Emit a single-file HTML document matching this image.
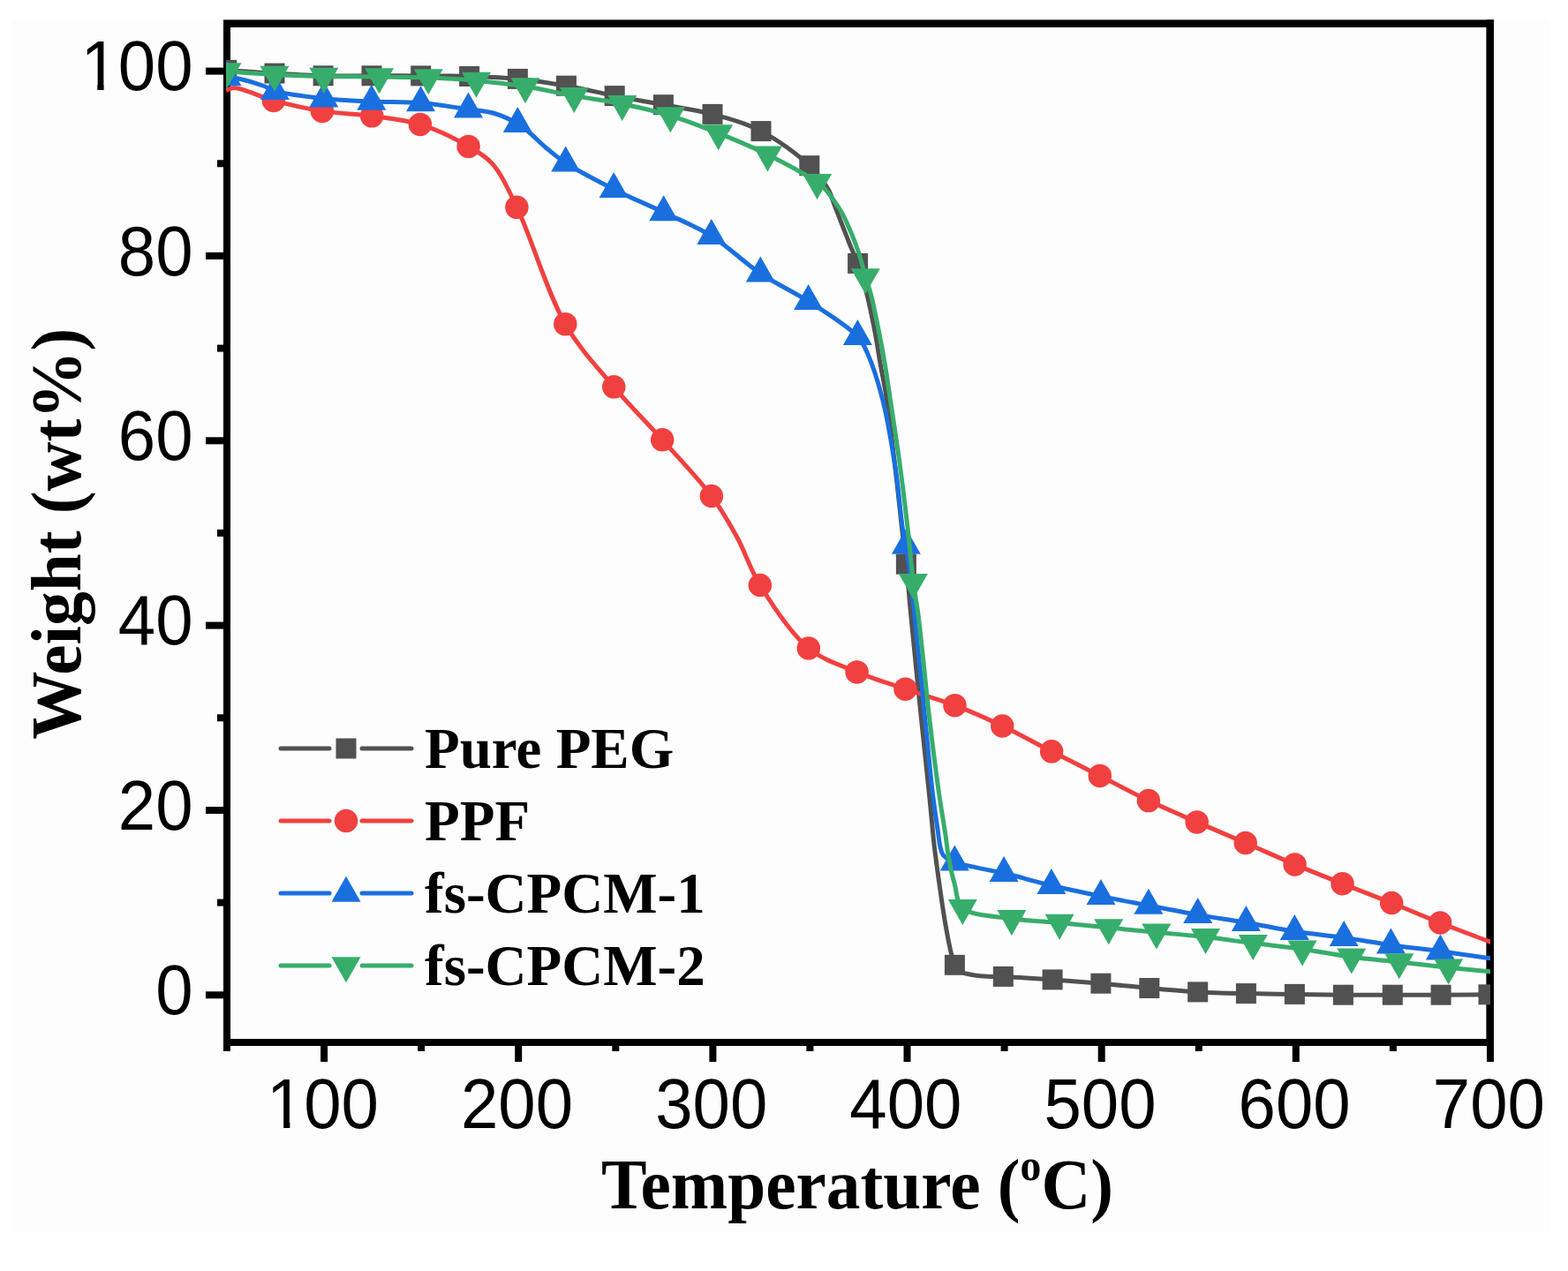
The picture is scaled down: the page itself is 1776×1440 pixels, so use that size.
<!DOCTYPE html>
<html><head><meta charset="utf-8"><title>TGA curves</title>
<style>
html,body{margin:0;padding:0;background:#ffffff;}
body{width:1776px;height:1440px;overflow:hidden;}
svg{display:block;}
.tk{font-family:"Liberation Sans",sans-serif;font-size:79.5px;fill:#000;}
.ti{font-family:"Liberation Serif",serif;font-weight:bold;font-size:81px;fill:#000;}
.lg{font-family:"Liberation Serif",serif;font-weight:bold;font-size:65px;fill:#000;}
</style></head><body>
<svg width="1776" height="1440" viewBox="0 0 1776 1440">
<rect x="0" y="0" width="1776" height="1440" fill="#ffffff"/>
<rect x="14" y="22" width="1741" height="1374" fill="#fdfdfd"/>
<defs><clipPath id="pc"><rect x="256" y="20" width="1432" height="1170"/></clipPath></defs>

<g fill="#000">
<rect x="253" y="22.4" width="1439" height="8.6"/>
<rect x="253" y="1177" width="1439" height="8"/>
<rect x="253" y="23" width="8" height="1162"/>
<rect x="1683.4" y="22.4" width="8.6" height="1162.6"/>
<rect x="253.0" y="1185" width="8" height="6"/>
<rect x="363.1" y="1185" width="8" height="18"/>
<rect x="473.1" y="1185" width="8" height="6"/>
<rect x="583.2" y="1185" width="8" height="18"/>
<rect x="693.3" y="1185" width="8" height="6"/>
<rect x="803.4" y="1185" width="8" height="18"/>
<rect x="913.4" y="1185" width="8" height="6"/>
<rect x="1023.5" y="1185" width="8" height="18"/>
<rect x="1133.6" y="1185" width="8" height="6"/>
<rect x="1243.7" y="1185" width="8" height="18"/>
<rect x="1353.8" y="1185" width="8" height="6"/>
<rect x="1463.8" y="1185" width="8" height="18"/>
<rect x="1573.9" y="1185" width="8" height="6"/>
<rect x="1684.0" y="1185" width="8" height="18"/>
<rect x="233" y="1123.3" width="20" height="8"/>
<rect x="246" y="1018.6" width="7" height="8"/>
<rect x="233" y="914.0" width="20" height="8"/>
<rect x="246" y="809.3" width="7" height="8"/>
<rect x="233" y="704.6" width="20" height="8"/>
<rect x="246" y="599.9" width="7" height="8"/>
<rect x="233" y="495.3" width="20" height="8"/>
<rect x="246" y="390.6" width="7" height="8"/>
<rect x="233" y="285.9" width="20" height="8"/>
<rect x="246" y="181.3" width="7" height="8"/>
<rect x="233" y="76.6" width="20" height="8"/>
</g>
<text class="tk" transform="translate(365.4,1277.6) scale(0.958,1)" text-anchor="middle">100</text>
<text class="tk" transform="translate(585.5,1277.6) scale(0.958,1)" text-anchor="middle">200</text>
<text class="tk" transform="translate(805.7,1277.6) scale(0.958,1)" text-anchor="middle">300</text>
<text class="tk" transform="translate(1025.8,1277.6) scale(0.958,1)" text-anchor="middle">400</text>
<text class="tk" transform="translate(1246.0,1277.6) scale(0.958,1)" text-anchor="middle">500</text>
<text class="tk" transform="translate(1466.1,1277.6) scale(0.958,1)" text-anchor="middle">600</text>
<text class="tk" transform="translate(1686.3,1277.6) scale(0.958,1)" text-anchor="middle">700</text>
<text class="tk" transform="translate(218.5,1149.1) scale(0.958,1)" text-anchor="end">0</text>
<text class="tk" transform="translate(218.5,939.8) scale(0.958,1)" text-anchor="end">20</text>
<text class="tk" transform="translate(218.5,730.4) scale(0.958,1)" text-anchor="end">40</text>
<text class="tk" transform="translate(218.5,521.1) scale(0.958,1)" text-anchor="end">60</text>
<text class="tk" transform="translate(218.5,311.7) scale(0.958,1)" text-anchor="end">80</text>
<text class="tk" transform="translate(218.5,102.4) scale(0.958,1)" text-anchor="end">100</text>
<text class="ti" transform="translate(971,1368.5) scale(0.955,1)" text-anchor="middle">Temperature (<tspan font-size="50" dy="-31.7">o</tspan><tspan dy="31.7">C)</tspan></text>
<text class="ti" transform="translate(90.8,604.8) rotate(-90) scale(0.955,1)" text-anchor="middle">Weight (wt%)</text>
<g fill="#fdfdfd"><rect x="95" y="95.5" width="15.3" height="7"/><rect x="117.6" y="95.5" width="14" height="7"/><rect x="306" y="1271.5" width="15.2" height="7"/><rect x="328.4" y="1271.5" width="14" height="7"/></g>
<g clip-path="url(#pc)">
<path d="M256.70,79.40 C274.80,80.63 292.83,82.04 311.00,83.10 C329.29,84.17 347.74,85.35 366.10,85.80 C384.41,86.25 402.63,85.78 421.00,85.80 C439.50,85.82 458.20,85.78 476.70,85.90 C495.07,86.02 513.31,85.92 531.60,86.50 C549.88,87.08 568.16,87.63 586.40,89.40 C604.76,91.18 623.13,94.01 641.40,97.20 C659.73,100.40 677.88,105.02 696.20,108.60 C714.54,112.19 732.97,115.24 751.40,118.70 C769.91,122.17 788.69,124.47 807.00,129.40 C825.57,134.40 844.31,139.44 862.00,148.60 C881.01,158.45 903.32,174.84 916.80,187.70 C926.53,196.99 933.72,206.92 938.50,215.30 C941.92,221.29 942.79,226.31 945.00,232.00 C947.32,237.96 949.76,244.28 952.10,250.30 C954.39,256.17 956.72,262.16 958.90,267.70 C960.90,272.78 962.65,277.33 964.70,282.30 C966.87,287.55 969.27,291.93 971.60,298.40 C974.96,307.73 978.76,320.89 981.90,333.30 C985.41,347.17 988.68,364.03 991.30,377.80 C993.55,389.65 994.90,399.49 996.90,411.00 C999.07,423.48 1001.56,434.65 1003.90,450.00 C1007.24,471.89 1010.95,504.21 1014.00,530.00 C1016.85,554.10 1019.40,580.03 1021.70,600.00 C1023.42,614.95 1024.87,624.81 1026.40,639.20 C1028.26,656.77 1029.60,674.94 1031.80,697.80 C1034.91,730.09 1039.81,778.71 1043.50,814.60 C1046.65,845.29 1049.88,874.24 1052.50,900.00 C1054.66,921.28 1056.12,940.28 1058.20,958.30 C1060.00,973.93 1061.94,987.43 1064.00,1002.00 C1066.07,1016.60 1068.24,1032.19 1070.60,1045.80 C1072.68,1057.77 1075.03,1070.67 1077.20,1079.40 C1078.61,1085.08 1079.47,1089.56 1081.40,1093.30 C1082.93,1096.26 1084.76,1098.88 1087.00,1100.50 C1089.03,1101.97 1091.43,1102.29 1094.00,1103.00 C1097.01,1103.83 1100.37,1104.47 1104.00,1105.00 C1108.26,1105.62 1113.02,1106.06 1118.00,1106.30 C1123.69,1106.58 1128.55,1106.14 1136.30,1106.40 C1149.85,1106.86 1173.59,1108.59 1192.10,1109.90 C1210.45,1111.20 1228.63,1112.60 1246.90,1114.20 C1265.20,1115.80 1283.49,1117.88 1301.80,1119.50 C1320.09,1121.12 1338.40,1122.88 1356.70,1123.90 C1374.94,1124.91 1393.14,1125.18 1411.40,1125.60 C1429.71,1126.02 1448.07,1126.13 1466.40,1126.40 C1484.73,1126.67 1502.99,1127.07 1521.40,1127.20 C1539.96,1127.33 1558.76,1127.20 1577.30,1127.20 C1595.66,1127.20 1613.91,1127.27 1632.10,1127.20 C1650.14,1127.13 1668.03,1126.93 1686.00,1126.80" fill="none" stroke="#515151" stroke-width="5" stroke-linejoin="round"/>
<g fill="#515151"><rect x="245.2" y="67.9" width="23" height="23"/><rect x="299.5" y="71.6" width="23" height="23"/><rect x="354.6" y="74.3" width="23" height="23"/><rect x="409.5" y="74.3" width="23" height="23"/><rect x="465.2" y="74.4" width="23" height="23"/><rect x="520.1" y="75.0" width="23" height="23"/><rect x="574.9" y="77.9" width="23" height="23"/><rect x="629.9" y="85.7" width="23" height="23"/><rect x="684.7" y="97.1" width="23" height="23"/><rect x="739.9" y="107.2" width="23" height="23"/><rect x="795.5" y="117.9" width="23" height="23"/><rect x="850.5" y="137.1" width="23" height="23"/><rect x="905.3" y="176.2" width="23" height="23"/><rect x="960.1" y="286.9" width="23" height="23"/><rect x="1014.9" y="627.7" width="23" height="23"/><rect x="1069.9" y="1081.8" width="23" height="23"/><rect x="1124.8" y="1094.9" width="23" height="23"/><rect x="1180.6" y="1098.4" width="23" height="23"/><rect x="1235.4" y="1102.7" width="23" height="23"/><rect x="1290.3" y="1108.0" width="23" height="23"/><rect x="1345.2" y="1112.4" width="23" height="23"/><rect x="1399.9" y="1114.1" width="23" height="23"/><rect x="1454.9" y="1114.9" width="23" height="23"/><rect x="1509.9" y="1115.7" width="23" height="23"/><rect x="1565.8" y="1115.7" width="23" height="23"/><rect x="1620.6" y="1115.7" width="23" height="23"/><rect x="1674.5" y="1115.3" width="23" height="23"/></g>
<path d="M256.00,102.50 C259.00,101.50 260.85,99.52 265.00,99.50 C274.25,99.45 294.07,109.64 309.90,113.90 C327.20,118.55 346.37,123.00 364.90,125.90 C383.47,128.81 402.62,128.78 421.20,131.30 C439.61,133.80 458.02,135.34 475.90,140.90 C494.51,146.68 515.90,157.35 530.60,165.90 C541.52,172.25 549.34,176.17 557.50,185.30 C568.18,197.24 575.24,213.94 585.40,234.80 C601.53,267.93 619.29,330.99 640.30,367.20 C656.94,395.87 676.50,415.97 695.30,438.30 C713.18,459.54 731.95,477.90 750.20,498.30 C768.82,519.11 790.96,541.79 805.90,562.00 C817.97,578.34 825.99,592.54 835.00,609.00 C844.38,626.14 849.44,644.37 860.90,663.00 C874.95,685.85 895.37,717.66 915.80,734.40 C932.62,748.19 952.09,753.62 970.60,761.40 C988.67,768.99 1007.08,774.42 1025.50,780.70 C1044.04,787.02 1063.17,792.22 1081.50,799.20 C1099.77,806.16 1117.35,813.99 1135.30,822.50 C1153.88,831.31 1172.57,841.84 1191.10,851.30 C1209.40,860.64 1227.55,869.62 1245.80,878.90 C1264.15,888.22 1282.44,898.29 1300.90,907.10 C1319.07,915.77 1337.39,923.41 1355.70,931.40 C1373.99,939.38 1392.30,947.04 1410.70,955.00 C1429.27,963.04 1448.08,971.62 1466.60,979.40 C1484.68,987.00 1502.37,993.98 1520.50,1001.20 C1538.89,1008.52 1557.72,1015.60 1576.20,1023.00 C1594.62,1030.37 1612.52,1038.11 1631.20,1045.50 C1650.43,1053.11 1670.40,1060.50 1690.00,1068.00" fill="none" stroke="#F14040" stroke-width="5" stroke-linejoin="round"/>
<g fill="#F14040"><circle cx="309.9" cy="113.9" r="13.25"/><circle cx="364.9" cy="125.9" r="13.25"/><circle cx="421.2" cy="131.3" r="13.25"/><circle cx="475.9" cy="140.9" r="13.25"/><circle cx="530.6" cy="165.9" r="13.25"/><circle cx="585.4" cy="234.8" r="13.25"/><circle cx="640.3" cy="367.2" r="13.25"/><circle cx="695.3" cy="438.3" r="13.25"/><circle cx="750.2" cy="498.3" r="13.25"/><circle cx="805.9" cy="562.0" r="13.25"/><circle cx="860.9" cy="663.0" r="13.25"/><circle cx="915.8" cy="734.4" r="13.25"/><circle cx="970.6" cy="761.4" r="13.25"/><circle cx="1025.5" cy="780.7" r="13.25"/><circle cx="1081.5" cy="799.2" r="13.25"/><circle cx="1135.3" cy="822.5" r="13.25"/><circle cx="1191.1" cy="851.3" r="13.25"/><circle cx="1245.8" cy="878.9" r="13.25"/><circle cx="1300.9" cy="907.1" r="13.25"/><circle cx="1355.7" cy="931.4" r="13.25"/><circle cx="1410.7" cy="955.0" r="13.25"/><circle cx="1466.6" cy="979.4" r="13.25"/><circle cx="1520.5" cy="1001.2" r="13.25"/><circle cx="1576.2" cy="1023.0" r="13.25"/><circle cx="1631.2" cy="1045.5" r="13.25"/></g>
<path d="M257.00,87.50 C262.00,88.17 266.32,88.29 272.00,89.50 C279.74,91.15 291.81,94.80 299.00,97.50 C304.01,99.38 305.62,101.47 311.40,103.20 C323.11,106.71 348.41,109.73 366.80,111.70 C384.87,113.63 402.65,114.19 420.80,115.00 C439.22,115.83 458.12,115.11 476.50,116.60 C494.68,118.07 515.21,121.56 530.50,123.80 C541.82,125.46 550.62,125.72 560.00,128.50 C569.21,131.23 579.14,135.99 586.30,140.20 C591.82,143.45 595.22,146.53 600.00,150.50 C605.70,155.24 611.54,161.53 618.00,167.00 C625.02,172.94 631.19,178.46 640.70,184.70 C654.67,193.86 676.72,205.09 695.20,214.40 C713.72,223.73 733.12,231.71 751.70,240.60 C769.98,249.35 788.18,256.34 805.80,267.30 C824.78,279.11 842.48,297.32 861.30,309.90 C879.12,321.82 897.66,329.72 915.60,341.30 C934.37,353.41 960.53,369.40 971.40,381.30 C977.51,387.99 978.76,391.96 982.40,400.00 C988.18,412.77 994.55,432.73 999.50,452.00 C1005.46,475.20 1010.11,504.14 1014.10,530.00 C1018.01,555.33 1020.68,591.07 1023.30,605.60 C1024.38,611.57 1025.22,612.09 1026.30,618.10 C1029.01,633.13 1032.76,668.68 1036.00,697.80 C1039.92,733.01 1044.16,778.71 1047.80,814.60 C1050.91,845.29 1053.64,876.28 1056.50,900.00 C1058.55,917.01 1061.09,933.03 1062.60,943.70 C1063.47,949.87 1063.60,953.86 1064.70,958.30 C1065.66,962.20 1066.09,966.04 1068.50,969.00 C1071.26,972.40 1075.25,974.36 1081.30,976.80 C1093.11,981.57 1118.71,984.86 1137.10,989.30 C1155.23,993.67 1172.74,998.88 1190.90,1003.20 C1209.36,1007.59 1228.47,1011.56 1247.00,1015.40 C1265.13,1019.15 1282.77,1022.53 1300.90,1026.00 C1319.33,1029.53 1338.17,1033.18 1356.70,1036.40 C1375.00,1039.58 1393.17,1042.06 1411.40,1045.20 C1429.70,1048.36 1447.88,1052.45 1466.30,1055.30 C1484.81,1058.16 1503.82,1059.70 1522.20,1062.30 C1540.17,1064.84 1557.42,1068.16 1575.40,1070.70 C1593.81,1073.30 1612.53,1075.18 1631.40,1077.70 C1650.72,1080.28 1670.47,1083.23 1690.00,1086.00" fill="none" stroke="#1A6FDF" stroke-width="5" stroke-linejoin="round"/>
<g fill="#1A6FDF"><path d="M257.0,68.2L273.5,97.2L240.5,97.2Z"/><path d="M311.4,83.9L327.9,112.9L294.9,112.9Z"/><path d="M366.8,92.4L383.3,121.4L350.3,121.4Z"/><path d="M420.8,95.7L437.3,124.7L404.3,124.7Z"/><path d="M476.5,97.3L493.0,126.3L460.0,126.3Z"/><path d="M530.5,104.5L547.0,133.5L514.0,133.5Z"/><path d="M586.3,120.9L602.8,149.9L569.8,149.9Z"/><path d="M640.7,165.4L657.2,194.4L624.2,194.4Z"/><path d="M695.2,195.1L711.7,224.1L678.7,224.1Z"/><path d="M751.7,221.3L768.2,250.3L735.2,250.3Z"/><path d="M805.8,248.0L822.3,277.0L789.3,277.0Z"/><path d="M861.3,290.6L877.8,319.6L844.8,319.6Z"/><path d="M915.6,322.0L932.1,351.0L899.1,351.0Z"/><path d="M971.4,362.0L987.9,391.0L954.9,391.0Z"/><path d="M1026.3,598.8L1042.8,627.8L1009.8,627.8Z"/><path d="M1081.3,957.5L1097.8,986.5L1064.8,986.5Z"/><path d="M1137.1,970.0L1153.6,999.0L1120.6,999.0Z"/><path d="M1190.9,983.9L1207.4,1012.9L1174.4,1012.9Z"/><path d="M1247.0,996.1L1263.5,1025.1L1230.5,1025.1Z"/><path d="M1300.9,1006.7L1317.4,1035.7L1284.4,1035.7Z"/><path d="M1356.7,1017.1L1373.2,1046.1L1340.2,1046.1Z"/><path d="M1411.4,1025.9L1427.9,1054.9L1394.9,1054.9Z"/><path d="M1466.3,1036.0L1482.8,1065.0L1449.8,1065.0Z"/><path d="M1522.2,1043.0L1538.7,1072.0L1505.7,1072.0Z"/><path d="M1575.4,1051.4L1591.9,1080.4L1558.9,1080.4Z"/><path d="M1631.4,1058.4L1647.9,1087.4L1614.9,1087.4Z"/></g>
<path d="M257.00,81.00 C275.00,82.13 292.85,83.49 311.00,84.40 C329.44,85.33 347.65,86.06 366.80,86.50 C387.09,86.96 409.22,86.76 429.50,87.00 C448.62,87.23 466.77,87.16 485.20,87.90 C503.40,88.63 521.24,89.74 539.40,91.40 C557.84,93.09 576.54,95.14 595.00,98.00 C613.51,100.87 631.92,105.30 650.30,108.60 C668.49,111.86 686.61,113.99 704.70,117.70 C722.98,121.45 741.35,125.52 759.40,131.00 C777.69,136.56 795.58,143.64 813.70,150.90 C832.28,158.34 851.10,166.07 869.50,175.20 C888.41,184.58 915.09,199.27 925.60,206.60 C930.11,209.75 931.70,211.24 934.60,214.30 C937.96,217.84 941.31,222.73 944.30,226.90 C947.11,230.82 949.56,234.22 952.10,238.60 C955.09,243.76 958.17,250.31 960.80,256.10 C963.31,261.64 965.41,266.85 967.60,272.60 C969.95,278.77 972.34,285.29 974.40,292.00 C976.56,299.06 978.13,306.93 980.20,314.00 C982.15,320.67 984.31,325.48 986.40,333.30 C989.52,345.02 993.17,364.03 995.90,377.80 C998.25,389.66 1000.05,399.47 1002.00,411.00 C1004.10,423.46 1005.70,434.68 1008.00,450.00 C1011.29,471.92 1016.18,503.69 1019.70,530.00 C1023.12,555.54 1026.32,582.50 1028.90,605.60 C1031.08,625.10 1032.32,643.18 1034.40,659.60 C1036.16,673.46 1038.09,681.57 1040.20,697.80 C1043.87,726.10 1048.58,778.73 1052.80,814.60 C1056.42,845.31 1060.31,876.28 1063.70,900.00 C1066.13,917.01 1068.65,930.58 1070.60,943.70 C1072.20,954.43 1072.92,963.30 1074.70,973.00 C1076.48,982.73 1078.65,992.60 1081.30,1002.00 C1083.88,1011.15 1083.15,1022.31 1090.30,1028.70 C1100.46,1037.77 1127.40,1037.90 1145.90,1040.70 C1164.00,1043.44 1181.92,1043.80 1200.10,1045.50 C1218.52,1047.23 1237.28,1049.19 1255.70,1051.00 C1273.88,1052.79 1291.72,1054.54 1309.90,1056.30 C1328.31,1058.08 1347.14,1059.53 1365.50,1061.60 C1383.60,1063.64 1401.20,1066.35 1419.30,1068.60 C1437.72,1070.89 1456.54,1072.59 1475.10,1075.20 C1493.70,1077.82 1512.34,1081.84 1530.80,1084.30 C1548.90,1086.72 1566.65,1087.94 1584.80,1089.90 C1603.28,1091.90 1622.64,1094.30 1640.70,1096.20 C1657.64,1097.98 1673.57,1099.40 1690.00,1101.00" fill="none" stroke="#37AD6B" stroke-width="5" stroke-linejoin="round"/>
<g fill="#37AD6B"><path d="M240.5,71.3L273.5,71.3L257.0,100.3Z"/><path d="M294.5,74.7L327.5,74.7L311.0,103.7Z"/><path d="M350.3,76.8L383.3,76.8L366.8,105.8Z"/><path d="M413.0,77.3L446.0,77.3L429.5,106.3Z"/><path d="M468.7,78.2L501.7,78.2L485.2,107.2Z"/><path d="M522.9,81.7L555.9,81.7L539.4,110.7Z"/><path d="M578.5,88.3L611.5,88.3L595.0,117.3Z"/><path d="M633.8,98.9L666.8,98.9L650.3,127.9Z"/><path d="M688.2,108.0L721.2,108.0L704.7,137.0Z"/><path d="M742.9,121.3L775.9,121.3L759.4,150.3Z"/><path d="M797.2,141.2L830.2,141.2L813.7,170.2Z"/><path d="M853.0,165.5L886.0,165.5L869.5,194.5Z"/><path d="M909.1,196.9L942.1,196.9L925.6,225.9Z"/><path d="M963.7,304.3L996.7,304.3L980.2,333.3Z"/><path d="M1017.9,649.9L1050.9,649.9L1034.4,678.9Z"/><path d="M1073.8,1019.0L1106.8,1019.0L1090.3,1048.0Z"/><path d="M1129.4,1031.0L1162.4,1031.0L1145.9,1060.0Z"/><path d="M1183.6,1035.8L1216.6,1035.8L1200.1,1064.8Z"/><path d="M1239.2,1041.3L1272.2,1041.3L1255.7,1070.3Z"/><path d="M1293.4,1046.6L1326.4,1046.6L1309.9,1075.6Z"/><path d="M1349.0,1051.9L1382.0,1051.9L1365.5,1080.9Z"/><path d="M1402.8,1058.9L1435.8,1058.9L1419.3,1087.9Z"/><path d="M1458.6,1065.5L1491.6,1065.5L1475.1,1094.5Z"/><path d="M1514.3,1074.6L1547.3,1074.6L1530.8,1103.6Z"/><path d="M1568.3,1080.2L1601.3,1080.2L1584.8,1109.2Z"/><path d="M1624.2,1086.5L1657.2,1086.5L1640.7,1115.5Z"/></g>
</g>
<g fill="#515151" stroke="none"><line x1="318" y1="848" x2="373" y2="848" stroke="#515151" stroke-width="5" stroke-linecap="round"/><line x1="410" y1="848" x2="466" y2="848" stroke="#515151" stroke-width="5" stroke-linecap="round"/><rect x="380.5" y="836.5" width="23" height="23"/></g>
<text class="lg" transform="translate(481,870) scale(1.0,1)">Pure PEG</text>
<g fill="#F14040" stroke="none"><line x1="318" y1="930" x2="373" y2="930" stroke="#F14040" stroke-width="5" stroke-linecap="round"/><line x1="410" y1="930" x2="466" y2="930" stroke="#F14040" stroke-width="5" stroke-linecap="round"/><circle cx="392.0" cy="930.0" r="13.25"/></g>
<text class="lg" transform="translate(481,952) scale(1.0,1)">PPF</text>
<g fill="#1A6FDF" stroke="none"><line x1="318" y1="1012" x2="373" y2="1012" stroke="#1A6FDF" stroke-width="5" stroke-linecap="round"/><line x1="410" y1="1012" x2="466" y2="1012" stroke="#1A6FDF" stroke-width="5" stroke-linecap="round"/><path d="M392.0,992.7L408.5,1021.7L375.5,1021.7Z"/></g>
<text class="lg" transform="translate(481,1034) scale(1.0,1)">fs-CPCM-1</text>
<g fill="#37AD6B" stroke="none"><line x1="318" y1="1094" x2="373" y2="1094" stroke="#37AD6B" stroke-width="5" stroke-linecap="round"/><line x1="410" y1="1094" x2="466" y2="1094" stroke="#37AD6B" stroke-width="5" stroke-linecap="round"/><path d="M375.5,1084.3L408.5,1084.3L392.0,1113.3Z"/></g>
<text class="lg" transform="translate(481,1116) scale(1.0,1)">fs-CPCM-2</text>
</svg></body></html>
